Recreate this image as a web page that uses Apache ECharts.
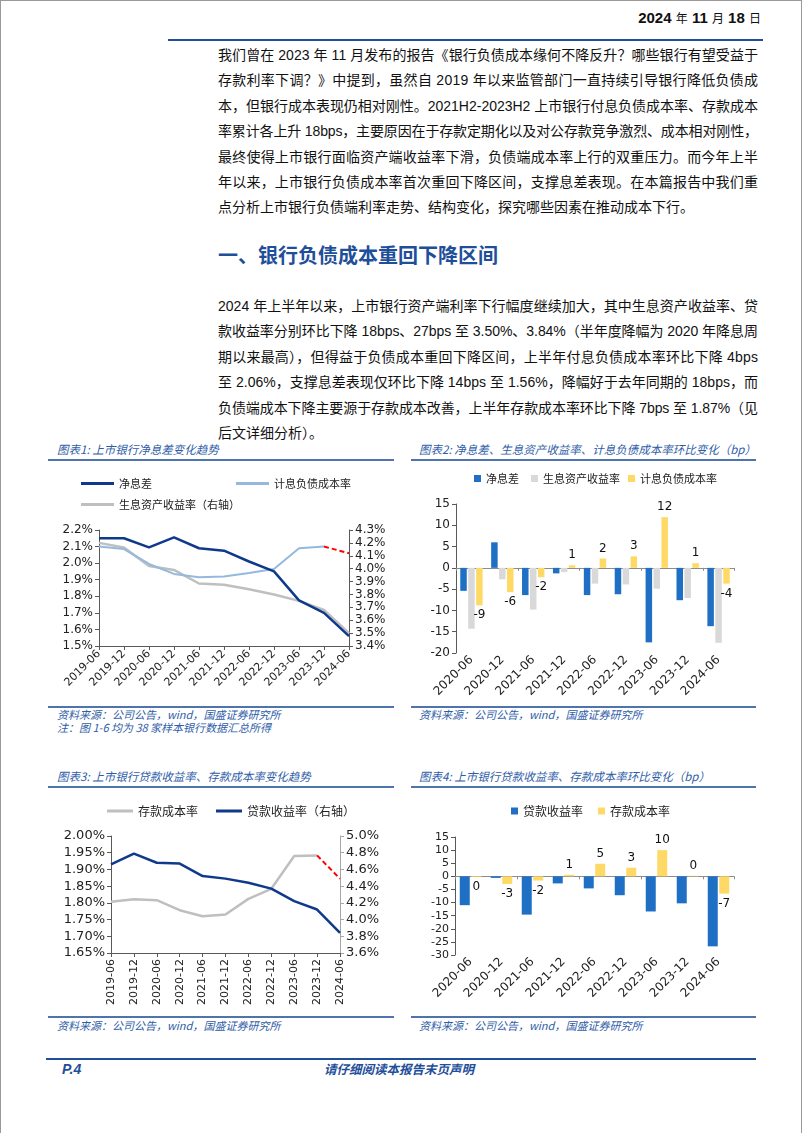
<!DOCTYPE html>
<html><head><meta charset="utf-8">
<script src="https://cdn.jsdelivr.net/npm/echarts@6/dist/echarts.min.js"></script>
<style>
html,body{margin:0;padding:0;background:#fff;}
#page{position:relative;width:802px;height:1133px;box-sizing:border-box;border:1px solid #9a9a9a;border-bottom:none;overflow:hidden;font-family:"Liberation Sans Narrow","Liberation Sans","Noto Sans CJK SC",sans-serif;}
.para{position:absolute;left:217px;width:540px;font-size:14px;color:#111;}
.para div{height:25.4px;line-height:25.4px;white-space:nowrap;text-align:left;}
.ctitle{position:absolute;font-size:11.5px;font-style:italic;color:#2f5da8;font-family:"Noto Sans CJK SC",sans-serif;line-height:16px;white-space:nowrap;}
.rule{position:absolute;height:2px;background:#4f74ad;}
.src{position:absolute;font-size:11px;font-style:italic;color:#2f5da8;font-family:"Noto Sans CJK SC",sans-serif;line-height:14px;white-space:nowrap;}
.chart{position:absolute;}
</style>
</head>
<body>
<div id="page">
  <div style="position:absolute;right:40px;top:8px;font-size:15px;font-weight:bold;color:#111;white-space:nowrap;">2024 <span style="font-size:12px;font-weight:normal;font-family:'Noto Sans CJK SC'">年</span> 11 <span style="font-size:12px;font-weight:normal;font-family:'Noto Sans CJK SC'">月</span> 18 <span style="font-size:12px;font-weight:normal;font-family:'Noto Sans CJK SC'">日</span></div>
  <div style="position:absolute;left:167px;top:38px;width:595px;height:2px;background:#1f4e9a;"></div>

  <div class="para" style="top:42px;">
    <div>我们曾在 2023 年 11 月发布的报告《银行负债成本缘何不降反升？哪些银行有望受益于</div>
    <div>存款利率下调？》中提到，虽然自 2019 年以来监管部门一直持续引导银行降低负债成</div>
    <div>本，但银行成本表现仍相对刚性。2021H2-2023H2 上市银行付息负债成本率、存款成本</div>
    <div>率累计各上升 18bps，主要原因在于存款定期化以及对公存款竞争激烈、成本相对刚性，</div>
    <div>最终使得上市银行面临资产端收益率下滑，负债端成本率上行的双重压力。而今年上半</div>
    <div>年以来，上市银行负债成本率首次重回下降区间，支撑息差表现。在本篇报告中我们重</div>
    <div class="last">点分析上市银行负债端利率走势、结构变化，探究哪些因素在推动成本下行。</div>
  </div>

  <div style="position:absolute;left:217px;top:239px;font-size:20px;font-weight:bold;color:#1f4e9a;font-family:'Noto Sans CJK SC';line-height:30px;white-space:nowrap;">一、银行负债成本重回下降区间</div>

  <div class="para" style="top:293px;">
    <div>2024 年上半年以来，上市银行资产端利率下行幅度继续加大，其中生息资产收益率、贷</div>
    <div>款收益率分别环比下降 18bps、27bps 至 3.50%、3.84%（半年度降幅为 2020 年降息周</div>
    <div>期以来最高），但得益于负债成本重回下降区间，上半年付息负债成本率环比下降 4bps</div>
    <div>至 2.06%，支撑息差表现仅环比下降 14bps 至 1.56%，降幅好于去年同期的 18bps，而</div>
    <div>负债端成本下降主要源于存款成本改善，上半年存款成本率环比下降 7bps 至 1.87%（见</div>
    <div class="last">后文详细分析）。</div>
  </div>

  <div class="ctitle" style="left:56px;top:440px;">图表1: 上市银行净息差变化趋势</div>
  <div class="rule" style="left:47px;top:458px;width:346px;"></div>
  <div class="ctitle" style="left:418px;top:440px;">图表2: 净息差、生息资产收益率、计息负债成本率环比变化（bp）</div>
  <div class="rule" style="left:410px;top:458px;width:345px;"></div>

  <div id="c1" class="chart" style="left:40px;top:460px;width:355px;height:244px;"></div>
  <div id="c2" class="chart" style="left:405px;top:460px;width:355px;height:244px;"></div>

  <div class="rule" style="left:47px;top:705px;width:346px;"></div>
  <div class="src" style="left:56px;top:706px;">资料来源：公司公告，wind，国盛证券研究所</div>
  <div class="src" style="left:56px;top:719px;">注：图 1-6 均为 38 家样本银行数据汇总所得</div>
  <div class="rule" style="left:410px;top:705px;width:345px;"></div>
  <div class="src" style="left:418px;top:706px;">资料来源：公司公告，wind，国盛证券研究所</div>

  <div class="ctitle" style="left:56px;top:767px;">图表3: 上市银行贷款收益率、存款成本率变化趋势</div>
  <div class="rule" style="left:47px;top:785px;width:346px;"></div>
  <div class="ctitle" style="left:418px;top:767px;">图表4: 上市银行贷款收益率、存款成本率环比变化（bp）</div>
  <div class="rule" style="left:410px;top:785px;width:345px;"></div>

  <div id="c3" class="chart" style="left:40px;top:790px;width:355px;height:224px;"></div>
  <div id="c4" class="chart" style="left:405px;top:790px;width:355px;height:224px;"></div>

  <div class="rule" style="left:47px;top:1015px;width:346px;"></div>
  <div class="src" style="left:56px;top:1017px;">资料来源：公司公告，wind，国盛证券研究所</div>
  <div class="rule" style="left:410px;top:1015px;width:345px;"></div>
  <div class="src" style="left:418px;top:1017px;">资料来源：公司公告，wind，国盛证券研究所</div>

  <div style="position:absolute;left:45px;top:1057px;width:710px;height:2px;background:#1f4e9a;"></div>
  <div style="position:absolute;left:61px;top:1059px;font-size:14px;font-weight:bold;font-style:italic;color:#1f4e9a;font-family:'Liberation Sans';line-height:18px;">P.4</div>
  <div style="position:absolute;left:298px;width:200px;text-align:center;top:1059px;font-size:12.5px;font-weight:bold;font-style:italic;color:#1f4e9a;font-family:'Noto Sans CJK SC';line-height:18px;">请仔细阅读本报告末页声明</div>
</div>

<script>
// ---------- Data ----------
const periods = ['2019-06','2019-12','2020-06','2020-12','2021-06','2021-12','2022-06','2022-12','2023-06','2023-12','2024-06'];
const chgPeriods = ['2020-06','2020-12','2021-06','2021-12','2022-06','2022-12','2023-06','2023-12','2024-06'];

// Chart 1 (%)
const nimLevel = [2.15, 2.15, 2.095, 2.155, 2.09, 2.075, 2.01, 1.95, 1.775, 1.70, 1.56];
const liabCostLevel = [2.10, 2.085, 1.995, 1.935, 1.915, 1.92, 1.94, 1.965, 2.09, 2.10, null];
const liabCostLatest = [null, null, null, null, null, null, null, null, null, 2.10, 2.06];
const assetYieldLevel = [4.20, 4.165, 4.02, 3.99, 3.885, 3.875, 3.84, 3.80, 3.75, 3.68, 3.50];
const c1LeftTicks = {min: 1.5, max: 2.2, interval: 0.1};
const c1RightTicks = {min: 3.4, max: 4.3, interval: 0.1};

// Chart 2 (bp)
const nimChg = [-5.4, 6.0, -6.4, -1.3, -6.4, -6.2, -17.5, -7.6, -13.7];
const assetYieldChg = [-14.3, -2.7, -9.8, -1.0, -3.7, -3.9, -4.9, -7.1, -17.6];
const liabCostChg = [-8.8, -5.7, -2.2, 0.6, 2.2, 2.7, 11.9, 1.1, -3.7];
const c2Ticks = {min: -20, max: 15, interval: 5};

// Chart 3 (%)
const depositCostLevel = [1.803, 1.811, 1.808, 1.778, 1.760, 1.765, 1.812, 1.842, 1.940, 1.942, null];
const depositCostLatest = [null, null, null, null, null, null, null, null, null, 1.942, 1.872];
const loanYieldLevel = [4.66, 4.79, 4.68, 4.67, 4.52, 4.49, 4.44, 4.37, 4.22, 4.12, 3.84];
const c3LeftTicks = {min: 1.65, max: 2.00, interval: 0.05};
const c3RightTicks = {min: 3.6, max: 5.0, interval: 0.2};

// Chart 4 (bp)
const loanYieldChg = [-11.0, -0.6, -14.6, -2.7, -4.6, -7.2, -13.4, -10.3, -26.7];
const depositCostChg = [-0.3, -2.9, -1.6, 0.6, 4.8, 3.3, 10.0, 0.2, -6.6];
const c4Ticks = {min: -30, max: 15, interval: 5};

// ---------- Justify paragraph lines to the column width ----------
document.querySelectorAll('.para div').forEach(d => {
  const txt = d.textContent;
  d.innerHTML = '';
  const span = document.createElement('span');
  span.textContent = txt;
  d.appendChild(span);
  const w = span.getBoundingClientRect().width;
  const n = Array.from(txt).length;
  const target = 540;
  if (!d.classList.contains('last') || w > target) {
    d.style.letterSpacing = ((target - w) / (n - 1)) + 'px';
  }
});

// ---------- Styles ----------
const NUM_FONT = 'DejaVu Sans';
const CJK_FONT = 'Noto Sans CJK SC';
const AXIS_COLOR = '#595959';
const NAVY = '#0f3a8c', LIGHTBLUE = '#95b9de', GRAY = '#bfbfbf', RED = '#ff0000';
const BLUE = '#1f6fc5', LGRAY = '#d9d9d9', YELLOW = '#ffd966';

function legendItem(name, left, top, w, h, fs) {
  return {data: [name], left: left, top: top, itemWidth: w, itemHeight: h, icon: 'rect', itemGap: 5,
    textStyle: {fontFamily: CJK_FONT, fontSize: fs, color: '#222'}, selectedMode: false};
}
function valAxis(t, fmt, fs, pos, color) {
  return {type: 'value', position: pos, min: t.min, max: t.max, interval: t.interval,
    axisLine: {show: true, lineStyle: {color: color || AXIS_COLOR, width: 1}},
    axisTick: {show: true, length: 4, lineStyle: {color: color || AXIS_COLOR}},
    splitLine: {show: false},
    axisLabel: {formatter: fmt, fontFamily: NUM_FONT, fontSize: fs, color: '#222', margin: 6}};
}
function lineSeries(name, data, color, width, yIdx, dashed) {
  return {name: name, type: 'line', data: data, yAxisIndex: yIdx, symbol: 'none', smooth: false,
    connectNulls: false, itemStyle: {color: color},
    lineStyle: {color: color, width: width, type: dashed ? [5, 3] : 'solid'}};
}
function rnd(p) { return String(Math.round(p.value)).replace('-0', '0'); }

// ---------- Chart 1 ----------
const c1 = echarts.init(document.getElementById('c1'), null, {renderer: 'canvas'});
c1.setOption({
  animation: false,
  legend: [
    legendItem('净息差', 35, 12, 33, 3, 11),
    legendItem('计息负债成本率', 190, 12, 33, 3, 11),
    legendItem('生息资产收益率（右轴）', 35, 33, 33, 3, 11)
  ],
  grid: {left: 58, top: 69, width: 250, height: 116, outerBoundsMode: 'none'},
  xAxis: {type: 'category', data: periods, boundaryGap: false,
    axisLine: {lineStyle: {color: AXIS_COLOR}}, axisTick: {show: true, length: 4, lineStyle: {color: AXIS_COLOR}},
    axisLabel: {rotate: 45, interval: 0, fontFamily: NUM_FONT, fontSize: 11, color: '#222', margin: 6}},
  yAxis: [
    valAxis(c1LeftTicks, v => v.toFixed(1) + '%', 12, 'left'),
    valAxis(c1RightTicks, v => v.toFixed(1) + '%', 12, 'right')
  ],
  series: [
    lineSeries('生息资产收益率（右轴）', assetYieldLevel, GRAY, 2.5, 1),
    lineSeries('计息负债成本率', liabCostLevel, LIGHTBLUE, 2, 0),
    lineSeries('计息负债成本率最新', liabCostLatest, RED, 2, 0, true),
    lineSeries('净息差', nimLevel, NAVY, 2.5, 0)
  ]
});

// ---------- Bar charts ----------
function barChgOption(cfg) {
  const series = cfg.series.map(s => ({
    name: s.name, type: 'bar', data: s.data, xAxisIndex: 0, barWidth: cfg.barWidth, barGap: cfg.barGap,
    itemStyle: {color: s.color},
    label: s.label ? {show: true, position: 'outside', distance: 4, formatter: rnd,
      fontFamily: NUM_FONT, fontSize: 12, color: '#111'} : {show: false}
  }));
  return {
    animation: false,
    legend: cfg.legends,
    grid: Object.assign({outerBoundsMode: 'none'}, cfg.grid),
    xAxis: [
      {type: 'category', data: chgPeriods, position: 'bottom',
        axisLine: {show: false, onZero: false}, axisTick: {show: false},
        axisLabel: {rotate: 45, interval: 0, fontFamily: NUM_FONT, fontSize: cfg.xfs, color: '#222', margin: 5}},
      {type: 'category', data: chgPeriods, position: 'top',
        axisLine: {show: true, onZero: true, lineStyle: {color: '#8c8c8c'}},
        axisTick: {show: true, inside: true, length: 3, lineStyle: {color: '#8c8c8c'}},
        axisLabel: {show: false}}
    ],
    yAxis: {type: 'value', min: cfg.ticks.min, max: cfg.ticks.max, interval: cfg.ticks.interval,
      axisLine: {show: true, lineStyle: {color: AXIS_COLOR}},
      axisTick: {show: true, length: 4, lineStyle: {color: AXIS_COLOR}},
      splitLine: {show: false},
      axisLabel: {fontFamily: NUM_FONT, fontSize: cfg.yfs, color: '#222', margin: 6}},
    series: series
  };
}

// ---------- Chart 2 ----------
const c2 = echarts.init(document.getElementById('c2'));
c2.setOption(barChgOption({
  legends: [
    legendItem('净息差', 63, 7, 7, 7, 11),
    legendItem('生息资产收益率', 120, 7, 7, 7, 11),
    legendItem('计息负债成本率', 217, 7, 7, 7, 11)
  ],
  grid: {left: 50, top: 43, width: 278, height: 149},
  ticks: c2Ticks, barWidth: 6.5, barGap: '22%', xfs: 12, yfs: 12,
  series: [
    {name: '净息差', data: nimChg, color: BLUE},
    {name: '生息资产收益率', data: assetYieldChg, color: LGRAY},
    {name: '计息负债成本率', data: liabCostChg, color: YELLOW, label: true}
  ]
}));

// ---------- Chart 3 ----------
const c3 = echarts.init(document.getElementById('c3'));
c3.setOption({
  animation: false,
  legend: [
    legendItem('存款成本率', 61, 9, 26, 3, 12),
    legendItem('贷款收益率（右轴）', 170, 9, 26, 3, 12)
  ],
  grid: {left: 70, top: 45, width: 229, height: 117, outerBoundsMode: 'none'},
  xAxis: {type: 'category', data: periods, boundaryGap: false,
    axisLine: {lineStyle: {color: AXIS_COLOR}}, axisTick: {show: true, length: 4, lineStyle: {color: AXIS_COLOR}},
    axisLabel: {rotate: 90, interval: 0, fontFamily: NUM_FONT, fontSize: 11, color: '#222', margin: 6}},
  yAxis: [
    valAxis(c3LeftTicks, v => v.toFixed(2) + '%', 13, 'left'),
    valAxis(c3RightTicks, v => v.toFixed(1) + '%', 13, 'right', '#a6a6a6')
  ],
  series: [
    lineSeries('存款成本率', depositCostLevel, GRAY, 2.5, 0),
    lineSeries('存款成本率最新', depositCostLatest, RED, 2, 0, true),
    lineSeries('贷款收益率（右轴）', loanYieldLevel, NAVY, 2.5, 1)
  ]
});

// ---------- Chart 4 ----------
const c4 = echarts.init(document.getElementById('c4'));
c4.setOption(barChgOption({
  legends: [
    legendItem('贷款收益率', 100, 9, 7, 7, 12),
    legendItem('存款成本率', 187, 9, 7, 7, 12)
  ],
  grid: {left: 49, top: 46, width: 279, height: 118},
  ticks: c4Ticks, barWidth: 10, barGap: '15%', xfs: 12, yfs: 11,
  series: [
    {name: '贷款收益率', data: loanYieldChg, color: BLUE},
    {name: '存款成本率', data: depositCostChg, color: YELLOW, label: true}
  ]
}));
</script>
</body></html>
